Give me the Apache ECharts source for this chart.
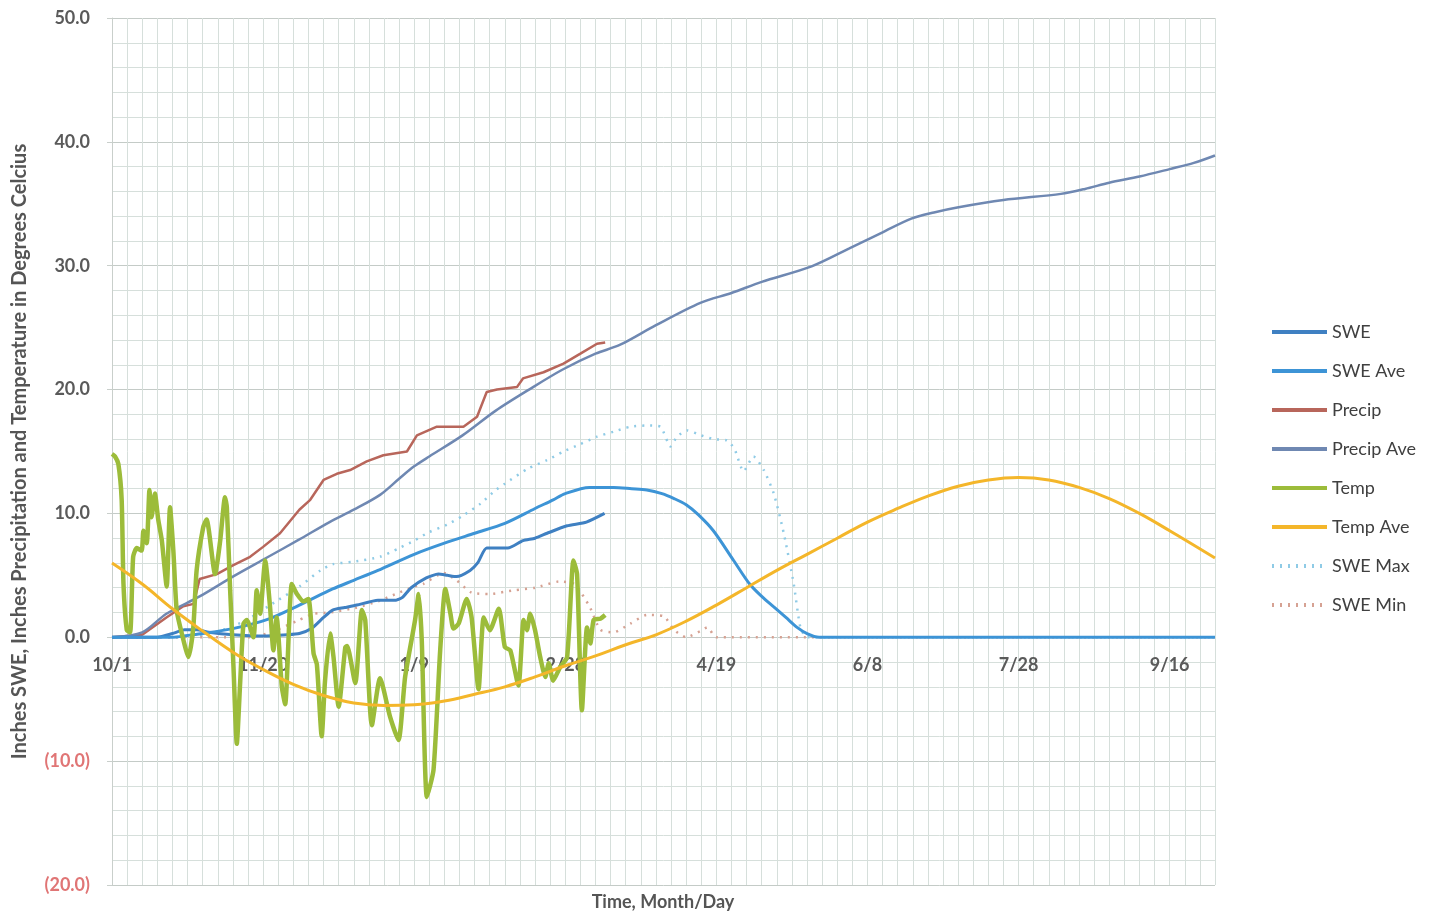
<!DOCTYPE html>
<html>
<head>
<meta charset="utf-8">
<script src="https://cdn.jsdelivr.net/npm/echarts@6/dist/echarts.min.js"></script>
<style>
html,body{margin:0;padding:0;background:#fff;}
#c{width:1437px;height:913px;}
</style>
</head>
<body>
<div id="c"></div>
<script>
// x = days since 10/1
const tickLabels = ['10/1','11/20','1/9','2/28','4/19','6/8','7/28','9/16'];
const seriesNames = ['SWE','SWE Ave','Precip','Precip Ave','Temp','Temp Ave','SWE Max','SWE Min'];

const swe = [[0,0],[15,0],[20,0.3],[24,0.6],[28,0.6],[32,0.4],[40,0.2],[50,0.1],[58,0.2],[62,0.3],[66,0.7],[70,1.6],[73,2.2],[77,2.4],[81,2.6],[88,3.0],[94,3.0],[96,3.2],[99,4.0],[104,4.8],[108,5.1],[111,5.0],[114,4.9],[118.5,5.4],[121,6.0],[124,7.2],[131,7.2],[136,7.8],[140,8.0],[144,8.4],[150.6,9.0],[157,9.3],[163,10.0]];

const sweAve = [[0,0],[20,0],[25,0.15],[30,0.3],[40,0.7],[51,1.4],[62,2.6],[73,3.9],[80,4.6],[88,5.4],[100,6.7],[110,7.6],[120,8.4],[130,9.2],[140,10.4],[146,11.1],[150,11.6],[158,12.1],[166,12.1],[172,12.0],[177,11.9],[182,11.6],[186,11.2],[190,10.7],[194,9.9],[199,8.6],[205.7,6.2],[211,4.3],[215,3.3],[219,2.45],[223,1.6],[226.7,0.8],[230,0.3],[234,0],[365,0]];

const precip = [[0,0],[10,0.2],[18,1.6],[23.6,2.5],[27,2.7],[29,4.7],[34.7,5.1],[40,5.8],[45.7,6.5],[50,7.3],[55.6,8.4],[62,10.3],[65.6,11.1],[70,12.7],[74.4,13.2],[78.8,13.5],[84.3,14.2],[89.8,14.7],[97.6,15.0],[100.9,16.3],[107.5,17.0],[116.3,17.0],[120.8,17.8],[124,19.8],[127.4,20.0],[134,20.2],[136,20.9],[142.8,21.4],[149.4,22.1],[155,22.9],[160.5,23.7],[163.2,23.8]];

const precipAve = [[0,0],[10,0.4],[18,1.9],[29,3.3],[40,4.9],[51,6.4],[62,7.9],[72,9.3],[80,10.3],[88.7,11.5],[95,12.8],[100,13.8],[105,14.6],[116,16.3],[127,18.3],[138,20.0],[149,21.6],[160,22.9],[168,23.6],[180,25.2],[194.7,27.0],[205,27.8],[215,28.7],[231.5,29.95],[244,31.4],[255,32.7],[264.5,33.8],[272,34.3],[279.7,34.7],[295,35.3],[314,35.8],[322,36.2],[330,36.7],[340,37.2],[350,37.8],[358,38.3],[365,38.9]];

const temp = [[0,14.8],[1,14.6],[2.1,14.0],[3.2,11.1],[3.8,4.3],[4.9,0.57],[6,0.4],[7,6.5],[8.2,7.2],[9.8,7.0],[10.4,8.6],[11.5,7.6],[12.4,11.9],[13.1,9.7],[14.2,11.6],[15.3,9.5],[16.5,7.8],[18.1,4.1],[19.2,10.5],[20.3,7.0],[21.4,2.2],[23.1,0.3],[25.3,-1.6],[26.9,0.8],[28,5.4],[30.2,8.9],[31.3,9.5],[34.1,5.1],[35.8,7.8],[37.4,11.3],[38,10.5],[39.1,3.8],[40.2,-2.4],[41.3,-8.6],[42.4,-3.7],[43.5,1.1],[44.6,1.4],[46.8,0],[47.9,3.8],[49,1.9],[50.7,6.2],[52.3,2.45],[53.4,-1.05],[54.5,1.6],[56.2,-4.0],[57.3,-5.4],[59.5,4.3],[61.2,3.5],[63.4,2.9],[65,3.1],[66.7,-1.3],[67.8,-2.2],[69.4,-8.0],[70.5,-3.5],[72.2,0.3],[73.3,-1.6],[75,-5.6],[77.2,-0.8],[77.8,-0.7],[80.5,-3.7],[82.7,2.2],[83.8,1.4],[86,-7.1],[88.7,-3.3],[92,-6.4],[94.8,-8.3],[97,-3.2],[100.3,1.4],[101.5,3.5],[102.5,-0.2],[104.2,-12.9],[106.4,-10.7],[108.6,-1.05],[110.3,3.9],[112,1.9],[113,0.7],[114.7,1.1],[117.4,3.1],[119,1.6],[121.3,-4.2],[123,1.6],[125,0.57],[128,2.3],[130,-0.8],[131.8,-1.05],[134.5,-3.9],[136.2,1.4],[137.3,0.57],[138.4,1.9],[140,0.57],[141.7,-1.6],[143.4,-3.2],[144.5,-2.1],[146,-3.5],[148.3,-2.4],[150.6,-1.6],[152.7,6.2],[153.9,5.1],[155.5,-5.9],[157.2,0.8],[158.3,-0.5],[159.4,1.4],[161.6,1.5],[163.2,1.8]];

const tempAve = [[0,6.0],[10,4.3],[20,2.3],[30,0.5],[40,-1.2],[50,-2.6],[60,-3.8],[70,-4.7],[80,-5.3],[90,-5.5],[100,-5.45],[110,-5.15],[120,-4.6],[130,-4.0],[140,-3.2],[150,-2.3],[160,-1.5],[170,-0.6],[180,0.2],[190,1.3],[200,2.6],[210,4.0],[220,5.4],[230,6.7],[240,8.0],[250,9.3],[260,10.4],[270,11.4],[280,12.2],[290,12.7],[300,12.9],[310,12.7],[320,12.1],[330,11.2],[340,10.0],[350,8.6],[365,6.4]];

const sweMax = [[0,0],[20,0],[30,0.2],[38,0.7],[44.6,1.4],[53,2.7],[62,4.1],[69,5.4],[73,5.9],[80,6.1],[88.7,6.5],[95,7.2],[100,7.8],[105,8.5],[111,9.1],[116,9.8],[122,10.8],[127,11.9],[130,12.4],[137.5,13.6],[144,14.3],[149.4,15.0],[155,15.6],[160.5,16.2],[166,16.6],[171.5,17.0],[177,17.1],[181.5,17.0],[184.8,15.4],[187,16.2],[190.3,16.7],[195,16.3],[199,16.0],[203.5,15.9],[206,15.2],[209,13.4],[212.3,14.6],[215.7,13.5],[219,11.6],[222.3,8.4],[225.6,4.3],[227.8,0.8],[230,0],[365,0]];

const sweMin = [[0,0],[45,0],[50,0.2],[54.5,0.6],[62,1.4],[66.7,1.9],[72,2.0],[81,2.4],[88,2.9],[92,3.3],[100,4.1],[103,4.3],[109.7,5.2],[114,4.6],[119,3.6],[125,3.5],[133,3.8],[140,4.0],[148,4.5],[153,4.3],[158,2.5],[161.6,0.6],[166,0.4],[171.5,1.1],[177,1.8],[182.6,1.7],[186,0.6],[190,0],[194.7,0.5],[197,0.8],[200,0],[365,0]];

const FONT = 'Lato, "Open Sans", sans-serif';
const chart = echarts.init(document.getElementById('c'), null, {renderer:'canvas'});

function mk(name, data, color, width, type, smooth, z) {
  return {
    name: name, type: 'line', data: data, symbol: 'none', showSymbol: false,
    smooth: smooth, z: z, animation: false,
    lineStyle: {color: color, width: width, type: type},
    itemStyle: {color: color}
  };
}

chart.setOption({
  backgroundColor: '#ffffff',
  animation: false,
  grid: {left: 112, right: 222, top: 18, bottom: 28, containLabel: false},
  legend: {
    orient: 'vertical', left: 1265, top: 318,
    itemWidth: 55, itemHeight: 14, itemGap: 21,
    data: seriesNames,
    itemStyle: {opacity: 0},
    lineStyle: {width: 4},
    textStyle: {fontFamily: FONT, fontSize: 18, color: '#404040'}
  },
  graphic: [{
    type: 'text', x: 663, y: 902,
    style: {text: 'Time, Month/Day', textAlign: 'center', textVerticalAlign: 'middle',
            font: 'bold 18px Lato, sans-serif', fill: '#555555'}
  }],
  xAxis: {
    type: 'value', min: 0, max: 365, interval: 5,
    position: 'bottom', offset: -248,
    axisLine: {show: false, onZero: false},
    axisTick: {show: false},
    axisLabel: {
      margin: 19, fontFamily: FONT, fontSize: 18, fontWeight: 'bold', color: '#5a5a5a',
      formatter: function (v) { return (v % 50 === 0) ? (tickLabels[v / 50] || '') : ''; }
    },
    splitLine: {show: true, lineStyle: {color: '#d6dfdb', width: 1}}
  },
  yAxis: {
    type: 'value', min: -20, max: 50, interval: 10,
    name: 'Inches SWE, Inches Precipitation and Temperature in Degrees Celcius',
    nameLocation: 'middle', nameRotate: 90, nameGap: 82,
    nameTextStyle: {fontFamily: FONT, fontSize: 20, fontWeight: 'bold', color: '#555555'},
    axisLine: {show: true, onZero: false, lineStyle: {color: '#c9cfcb'}},
    axisTick: {show: true, length: 5, lineStyle: {color: '#c9cfcb'}},
    axisLabel: {
      margin: 22, fontFamily: FONT, fontSize: 18, fontWeight: 'bold',
      color: function (v) { return Number(v) < 0 ? '#e07575' : '#5a5a5a'; },
      formatter: function (v) { return v < 0 ? '(' + Math.abs(v).toFixed(1) + ')' : v.toFixed(1); }
    },
    splitLine: {show: true, lineStyle: {color: '#c4cbc7', width: 1}},
    minorTick: {show: false, splitNumber: 5},
    minorSplitLine: {show: true, lineStyle: {color: '#d6dfdb', width: 1}}
  },
  series: [
    mk('SWE', swe, '#3f80c2', 3, 'solid', 0.2, 5),
    mk('SWE Ave', sweAve, '#3d94d6', 3, 'solid', 0.3, 5),
    mk('Precip', precip, '#b8665b', 2.5, 'solid', false, 4),
    mk('Precip Ave', precipAve, '#6f88b2', 2.5, 'solid', 0.3, 4),
    mk('Temp', temp, '#9cbc3a', 4.5, 'solid', 0.2, 6),
    mk('Temp Ave', tempAve, '#f4b62a', 3, 'solid', 0.4, 6),
    mk('SWE Max', sweMax, '#8fcbe6', 2.5, [2, 6], 0.2, 3),
    mk('SWE Min', sweMin, '#d6a293', 2.5, [2, 6], 0.2, 3)
  ]
});
</script>
</body>
</html>
